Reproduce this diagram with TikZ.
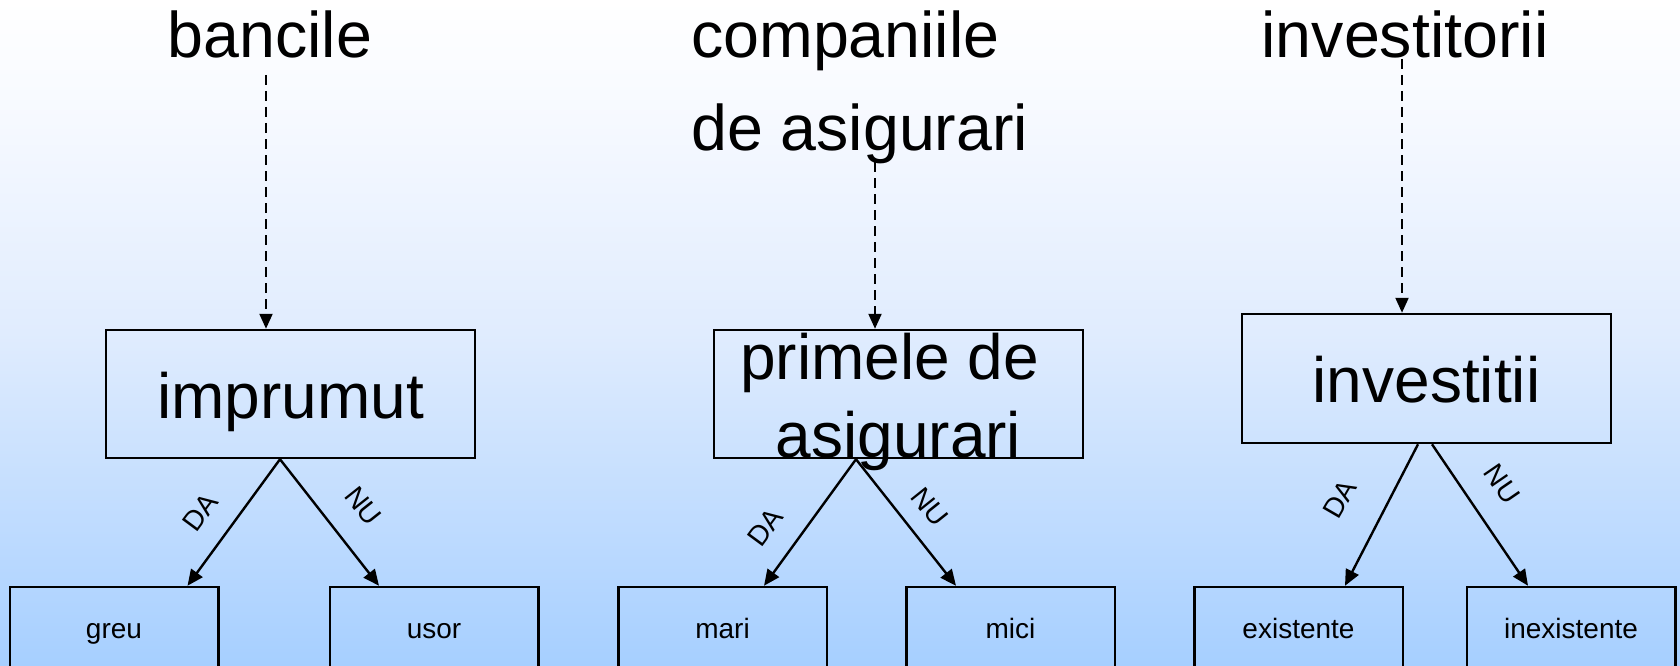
\documentclass[tikz,border=0pt]{standalone}
\usepackage{fontspec}
\setmainfont{Liberation Sans}
\usetikzlibrary{arrows.meta,calc}
\definecolor{bgtop}{RGB}{255,255,255}
\definecolor{bgtoptwo}{RGB}{246,249,255}
\definecolor{bgmid}{RGB}{224,236,254}
\definecolor{bgbot}{RGB}{166,207,255}
\pgfdeclareverticalshading{bgshade}{100bp}{color(0bp)=(bgbot); color(25bp)=(bgbot); color(50bp)=(bgmid); color(66bp)=(bgtoptwo); color(75bp)=(bgtop); color(100bp)=(bgtop)}
\begin{document}
\begin{tikzpicture}[x=1pt,y=-1pt,
  box/.style={draw=black, line width=2.5pt, inner sep=0pt, minimum width=369pt, minimum height=128pt, font=\fontsize{64}{78}\selectfont, text height=48pt, text depth=0pt},
  leaf/.style={draw=black, line width=2.5pt, inner sep=0pt, minimum width=208.5pt, minimum height=81pt, font=\fontsize{28}{34}\selectfont, text height=21pt, text depth=0pt},
  head/.style={font=\fontsize{64.5}{90}\selectfont, inner sep=0pt},
  dasharrow/.style={line width=2.2pt, dash pattern=on 10pt off 6pt, -{Triangle[length=15pt,width=13pt]}},
  arr/.style={line width=2.4pt, -{Triangle[length=16pt,width=14pt]}},
  lbl/.style={font=\fontsize{28}{32}\selectfont, inner sep=0pt}]
\shade[shading=bgshade] (0,0) rectangle (1680,666);
\useasboundingbox (0,0) rectangle (1680,666);

% headings
\node[head, anchor=base] (banc) at (270,58) {bancile};
\node[head, anchor=base west] (comp1) at (691,58) {companiile};
\node[head, anchor=base west] (comp2) at (691,150) {de asigurari};
\node[head, anchor=base] (invs) at (1405,58) {investitorii};

% main boxes
\node[box] (imp) at (290.5,394) {imprumut};
\node[box, minimum height=128pt] (prim) at (898.5,394) {};
\node[font=\fontsize{64}{78}\selectfont, align=center, inner sep=0pt] (primtxt) at (898.5,402) {primele de\kern0.28em\\asigurari};
\node[box, minimum height=129pt] (inv) at (1426.5,378.5) {investitii};

% leaves (bottom edge runs off the picture)
\node[leaf] (greu) at (114,627.5) {greu};
\node[leaf] (usor) at (434,627.5) {usor};
\node[leaf] (mari) at (722.5,627.5) {mari};
\node[leaf] (mici) at (1010.5,627.5) {mici};
\node[leaf] (exi) at (1298.5,627.5) {existente};
\node[leaf] (inex) at (1571,627.5) {inexistente};

% dashed arrows
\draw[dasharrow] ([xshift=-4pt, yshift=-17pt]banc.base) -- ([xshift=-24.5pt]imp.north);
\draw[dasharrow] ([xshift=184pt, yshift=-12pt]comp2.base west) -- ([xshift=-23.5pt]prim.north);
\draw[dasharrow] ([xshift=-3pt, yshift=-1pt]invs.base) -- ([xshift=-24.5pt]inv.north);

% solid arrows
\draw[arr] ([xshift=-10.5pt]imp.south) -- ([xshift=73.5pt]greu.north);
\draw[arr] ([xshift=-10.5pt]imp.south) -- ([xshift=-55pt]usor.north);
\draw[arr] ([xshift=-42.5pt]prim.south) -- ([xshift=41.5pt]mari.north);
\draw[arr] ([xshift=-42.5pt]prim.south) -- ([xshift=-54.5pt]mici.north);
\draw[arr] ([xshift=-8.5pt]inv.south) -- ([xshift=46.5pt]exi.north);
\draw[arr] ([xshift=5.5pt]inv.south) -- ([xshift=-43pt]inex.north);

% labels
\node[lbl, rotate=53.5] (da1) at (200,512) {DA};
\node[lbl, rotate=-51.6] (nu1) at (363,506) {NU};
\node[lbl, rotate=53.6] (da2) at (765,527) {DA};
\node[lbl, rotate=-51.3] (nu2) at (930,507) {NU};
\node[lbl, rotate=60] (da3) at (1340,499) {DA};
\node[lbl, rotate=-55.6] (nu3) at (1502,484) {NU};
\end{tikzpicture}
\end{document}
